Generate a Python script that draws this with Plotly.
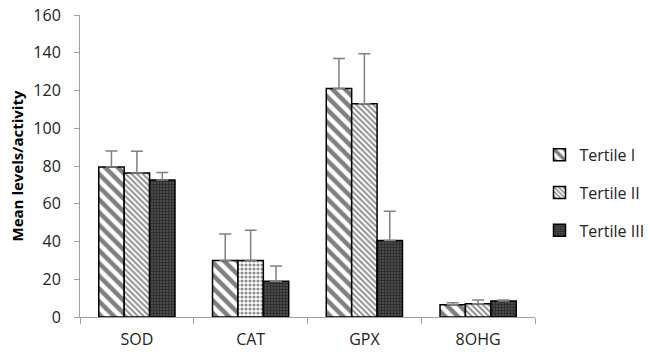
import plotly.graph_objects as go

categories = ["SOD", "CAT", "GPX", "8OHG"]
series_names = ["Tertile I", "Tertile II", "Tertile III"]
t1 = [79.5, 30, 121, 6.5]
t2 = [76.3, 30, 113, 7]
t3 = [72.6, 19, 40.5, 8.5]
t1_err = [8.5, 14, 16, 1.0]
t2_err = [11.5, 16, 26.5, 2.0]
t3_err = [4.0, 8, 15.5, 0.5]

fig = go.Figure()

styles = [
    dict(shape="\\", fgcolor="#000000", bgcolor="#ffffff", size=9, solidity=0.5),
    dict(shape=["\\", ".", "\\", "\\"], fgcolor="#222222", bgcolor="#ffffff", size=4, solidity=0.5),
    dict(shape="+", fgcolor="#111111", bgcolor="#4a4a4a", size=3, solidity=0.5),
]
for i, (name, vals, errs, st) in enumerate(zip(series_names, [t1, t2, t3], [t1_err, t2_err, t3_err], styles)):
    fig.add_trace(go.Bar(
        x=categories, y=vals, name=name, legendgroup=f"g{i}",
        marker=dict(pattern=st, color="#ffffff", line=dict(color="#000000", width=1.5)),
        error_y=dict(type="data", array=errs, arrayminus=[0]*len(errs), symmetric=False,
                     color="#808080", thickness=1.5, width=6),
    ))

fig.update_layout(
    width=650, height=357,
    barmode="group", bargap=0.33, bargroupgap=0,
    plot_bgcolor="#ffffff", paper_bgcolor="#ffffff",
    margin=dict(l=80, r=115, t=15, b=40, autoexpand=False),
    font=dict(family="Open Sans, Liberation Sans, sans-serif", size=16, color="#333333"),
    showlegend=True,
    legend=dict(xref="container", yref="container", x=0.83, y=0.46,
                xanchor="left", yanchor="middle",
                traceorder="grouped", tracegroupgap=14,
                font=dict(size=16, color="#222222"), itemwidth=30),
    xaxis=dict(showline=True, linecolor="#a0a0a0", linewidth=1, ticks="outside",
               tickson="boundaries", ticklen=6, tickcolor="#a0a0a0",
               ticklabelstandoff=8, automargin=False,
               tickfont=dict(size=16, color="#222222")),
    yaxis=dict(range=[0, 160], dtick=20, showgrid=False, zeroline=False,
               showline=True, linecolor="#a0a0a0", linewidth=1, ticks="outside",
               ticklen=5, tickcolor="#a0a0a0", ticklabelstandoff=10, automargin=False,
               tickfont=dict(size=16, color="#222222"),
               title=dict(text="<b>Mean levels/activity</b>", font=dict(size=15, color="#000000"),
                          standoff=6)),
)

fig.write_html("out.html")
